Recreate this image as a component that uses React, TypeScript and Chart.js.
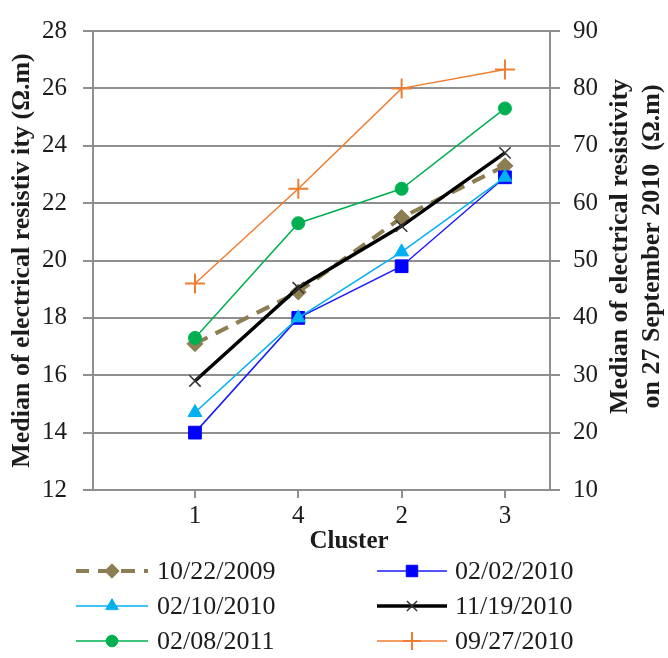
import React, { useEffect, useRef } from 'react';
import { Chart, registerables } from 'chart.js';
import { drawPoint } from 'chart.js/helpers';

Chart.register(...registerables);

// ---- data ----
const clusters = ['1', '4', '2', '3'];
const seriesNames = ['10/22/2009', '02/02/2010', '02/10/2010', '11/19/2010', '02/08/2011', '09/27/2010'];
const r20091022 = [17.1, 18.9, 21.5, 23.3];
const r20100202 = [14.0, 18.0, 19.8, 22.9];
const r20100210 = [14.7, 18.0, 20.3, 22.9];
const r20101119 = [15.8, 19.05, 21.2, 23.75];
const r20110208 = [17.3, 21.3, 22.5, 25.3];
const r20100927 = [46, 62.5, 80, 83.3]; // secondary axis
const leftTitle = 'Median of electrical resistiv ity (Ω.m)';
const rightTitle = ['Median of electrical resistivity', 'on 27 September 2010  (Ω.m)'];
const xTitle = 'Cluster';

const FONT = '"Liberation Serif", "Times New Roman", serif';
const GRID = '#8f8f8f';
const TEXT = '#1c1c1c';

const toPts = (arr: number[]) => arr.map((v, i) => ({ x: i, y: v }));

const overlay = {
  id: 'overlay',
  afterDraw(chart: any) {
    const ctx = chart.ctx;
    const ca = chart.chartArea;
    ctx.save();
    ctx.fillStyle = TEXT;
    ctx.font = `bold 25px ${FONT}`;
    ctx.textAlign = 'center';
    ctx.textBaseline = 'middle';
    ctx.fillText(xTitle, 349, 542);

    // right axis title, reading bottom-to-top
    ctx.save();
    ctx.translate(636, (ca.top + ca.bottom) / 2 - 14);
    ctx.rotate(-Math.PI / 2);
    ctx.font = `bold 26px ${FONT}`;
    ctx.fillText(rightTitle[0], 0, -16);
    ctx.fillText(rightTitle[1], 0, 16);
    ctx.restore();

    // legend
    const rows = [571, 606, 641];
    const cols = [
      { l0: 76, l1: 148, m: 112, t: 157 },
      { l0: 377, l1: 447, m: 412, t: 455 },
    ];
    chart.data.datasets.forEach((ds: any, i: number) => {
      const c = cols[i % 2];
      const y = rows[Math.floor(i / 2)];
      ctx.save();
      ctx.strokeStyle = ds.borderColor;
      ctx.lineWidth = ds.borderWidth;
      ctx.setLineDash(ds.borderDash || []);
      ctx.lineDashOffset = ds.borderDash ? 1 : 0;
      ctx.beginPath();
      ctx.moveTo(c.l0, y);
      ctx.lineTo(c.l1, y);
      ctx.stroke();
      ctx.setLineDash([]);
      ctx.fillStyle = ds.pointBackgroundColor;
      ctx.strokeStyle = ds.pointBorderColor;
      ctx.lineWidth = ds.pointBorderWidth;
      drawPoint(ctx, { pointStyle: ds.pointStyle, radius: ds.pointRadius * 0.9, rotation: 0, borderWidth: ds.pointBorderWidth }, c.m, y);
      ctx.restore();
      ctx.font = `26px ${FONT}`;
      ctx.textAlign = 'left';
      ctx.textBaseline = 'middle';
      ctx.fillStyle = TEXT;
      ctx.fillText(ds.label, c.t, y + 1);
    });
    ctx.restore();
  },
};

export default function App() {
  const ref = useRef<HTMLCanvasElement>(null);
  useEffect(() => {
    if (!ref.current) return;
    const mk = (i: number, data: number[], style: any, axis = 'y') => ({
      label: seriesNames[i],
      data: toPts(data),
      yAxisID: axis,
      tension: 0,
      fill: false,
      order: 10 - i,
      ...style,
    });
    const chart = new Chart(ref.current, {
      type: 'line',
      data: {
        datasets: [
          mk(0, r20091022, { borderColor: '#8c7e52', borderWidth: 4, borderDash: [14, 9], pointStyle: 'rectRot', pointRadius: 8, pointBackgroundColor: '#8c7e52', pointBorderColor: '#8c7e52', pointBorderWidth: 1 }),
          mk(1, r20100202, { borderColor: '#1a1aff', borderWidth: 1.5, pointStyle: 'rect', pointRadius: 9, pointBackgroundColor: '#0000ff', pointBorderColor: '#0000ff', pointBorderWidth: 1 }),
          mk(2, r20100210, { borderColor: '#00b0f0', borderWidth: 1.5, pointStyle: 'triangle', pointRadius: 8, pointBackgroundColor: '#00b0f0', pointBorderColor: '#00b0f0', pointBorderWidth: 1 }),
          mk(3, r20101119, { borderColor: '#000000', borderWidth: 3.5, pointStyle: 'crossRot', pointRadius: 8, pointBackgroundColor: '#333333', pointBorderColor: '#333333', pointBorderWidth: 1.5 }),
          mk(4, r20110208, { borderColor: '#00b050', borderWidth: 1.5, pointStyle: 'circle', pointRadius: 6.5, pointBackgroundColor: '#00b050', pointBorderColor: '#00b050', pointBorderWidth: 1 }),
          mk(5, r20100927, { borderColor: '#ed7d31', borderWidth: 1.5, pointStyle: 'cross', pointRadius: 10, pointBackgroundColor: '#ed7d31', pointBorderColor: '#ed7d31', pointBorderWidth: 2 }, 'y1'),
        ],
      },
      options: {
        responsive: false,
        animation: false,
        layout: { padding: { top: 23, left: 0, right: 0, bottom: 0 } },
        plugins: { legend: { display: false }, tooltip: { enabled: false }, title: { display: false } },
        scales: {
          x: {
            type: 'linear',
            position: 'bottom',
            min: -0.987,
            max: 3.436,
            afterBuildTicks: (s: any) => { s.ticks = clusters.map((_, i) => ({ value: i })); },
            afterFit: (s: any) => { s.height = 168; },
            ticks: {
              callback: (v: any) => clusters[v] ?? '',
              font: { size: 25, family: FONT },
              color: TEXT,
              padding: 3,
              maxRotation: 0,
            },
            grid: { drawOnChartArea: false, drawTicks: true, tickLength: 8, color: GRID, lineWidth: 2 },
            border: { display: true, color: GRID, width: 2 },
          },
          y: {
            position: 'left',
            min: 12,
            max: 28,
            afterFit: (s: any) => { s.width = 93; },
            ticks: { stepSize: 2, font: { size: 25, family: FONT }, color: TEXT, padding: 16 },
            grid: { color: GRID, lineWidth: 2, tickLength: 10 },
            border: { display: true, color: GRID, width: 2 },
            title: { display: true, text: leftTitle, font: { size: 26, family: FONT, weight: 'bold' }, color: TEXT, padding: { top: 7, bottom: 0 } },
          },
          y1: {
            position: 'right',
            min: 10,
            max: 90,
            afterFit: (s: any) => { s.width = 118; },
            ticks: { stepSize: 10, font: { size: 25, family: FONT }, color: TEXT, padding: 13 },
            grid: { drawOnChartArea: false, color: GRID, lineWidth: 2, tickLength: 10 },
            border: { display: true, color: GRID, width: 2 },
          },
        },
      },
      plugins: [overlay],
    } as any);
    return () => chart.destroy();
  }, []);
  return (
    <div style={{ position: 'fixed', left: 0, top: 0, width: 668, height: 658, background: '#fff' }}>
      <canvas ref={ref} width={668} height={658} style={{ display: 'block', width: 668, height: 658 }} />
    </div>
  );
}
